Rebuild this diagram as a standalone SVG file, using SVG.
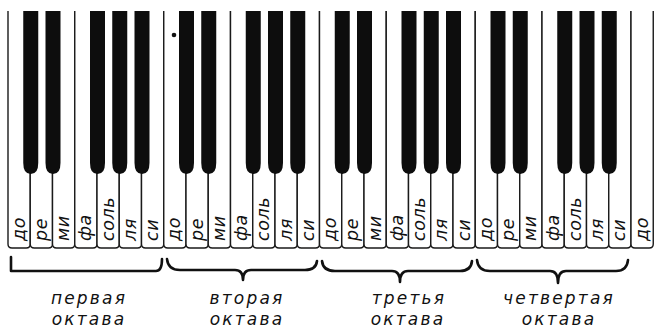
<svg xmlns="http://www.w3.org/2000/svg" xmlns:xlink="http://www.w3.org/1999/xlink" width="656" height="330" viewBox="0 0 656 330">
<style>
.wk{fill:#fff;stroke:#1a1a1a;stroke-width:1.4}
.bk{fill:#0d0d0d}
.kl{font-family:"DejaVu Sans",sans-serif;font-style:italic;font-size:17.5px;letter-spacing:0.6px;fill:#111}
.br{fill:none;stroke:#111;stroke-width:2.6;stroke-linecap:round;stroke-linejoin:round}
.ol{font-family:"DejaVu Sans",sans-serif;font-style:italic;font-size:17px;letter-spacing:2.2px;fill:#111;text-anchor:middle}
</style>
<defs>
<path id="w" class="wk" d="M0,11 V244 Q0,248 4,248 H18.25 Q22.25,248 22.25,244 V11"/>
<path id="b" class="bk" d="M0,11 H15 V163 Q15,174 7.5,174 Q0,174 0,163 Z"/>
</defs>
<rect width="656" height="330" fill="#fff"/>
<g id="white-keys">
<g id="wk0"><use href="#w" x="8"/><text class="kl" transform="translate(24.5,241) rotate(-90)">до</text></g>
<g id="wk1"><use href="#w" x="30.25"/><text class="kl" transform="translate(46.75,241) rotate(-90)">ре</text></g>
<g id="wk2"><use href="#w" x="52.5"/><text class="kl" transform="translate(69,241) rotate(-90)">ми</text></g>
<g id="wk3"><use href="#w" x="74.75"/><text class="kl" transform="translate(91.25,241) rotate(-90)">фа</text></g>
<g id="wk4"><use href="#w" x="97"/><text class="kl" transform="translate(113.5,241) rotate(-90)">соль</text></g>
<g id="wk5"><use href="#w" x="119.25"/><text class="kl" transform="translate(135.75,241) rotate(-90)">ля</text></g>
<g id="wk6"><use href="#w" x="141.5"/><text class="kl" transform="translate(158,241) rotate(-90)">си</text></g>
<g id="wk7"><use href="#w" x="163.75"/><text class="kl" transform="translate(180.25,241) rotate(-90)">до</text></g>
<g id="wk8"><use href="#w" x="186"/><text class="kl" transform="translate(202.5,241) rotate(-90)">ре</text></g>
<g id="wk9"><use href="#w" x="208.25"/><text class="kl" transform="translate(224.75,241) rotate(-90)">ми</text></g>
<g id="wk10"><use href="#w" x="230.5"/><text class="kl" transform="translate(247,241) rotate(-90)">фа</text></g>
<g id="wk11"><use href="#w" x="252.75"/><text class="kl" transform="translate(269.25,241) rotate(-90)">соль</text></g>
<g id="wk12"><use href="#w" x="275"/><text class="kl" transform="translate(291.5,241) rotate(-90)">ля</text></g>
<g id="wk13"><use href="#w" x="297.25"/><text class="kl" transform="translate(313.75,241) rotate(-90)">си</text></g>
<g id="wk14"><use href="#w" x="319.5"/><text class="kl" transform="translate(336,241) rotate(-90)">до</text></g>
<g id="wk15"><use href="#w" x="341.75"/><text class="kl" transform="translate(358.25,241) rotate(-90)">ре</text></g>
<g id="wk16"><use href="#w" x="364"/><text class="kl" transform="translate(380.5,241) rotate(-90)">ми</text></g>
<g id="wk17"><use href="#w" x="386.25"/><text class="kl" transform="translate(402.75,241) rotate(-90)">фа</text></g>
<g id="wk18"><use href="#w" x="408.5"/><text class="kl" transform="translate(425,241) rotate(-90)">соль</text></g>
<g id="wk19"><use href="#w" x="430.75"/><text class="kl" transform="translate(447.25,241) rotate(-90)">ля</text></g>
<g id="wk20"><use href="#w" x="453"/><text class="kl" transform="translate(469.5,241) rotate(-90)">си</text></g>
<g id="wk21"><use href="#w" x="475.25"/><text class="kl" transform="translate(491.75,241) rotate(-90)">до</text></g>
<g id="wk22"><use href="#w" x="497.5"/><text class="kl" transform="translate(514,241) rotate(-90)">ре</text></g>
<g id="wk23"><use href="#w" x="519.75"/><text class="kl" transform="translate(536.25,241) rotate(-90)">ми</text></g>
<g id="wk24"><use href="#w" x="542"/><text class="kl" transform="translate(558.5,241) rotate(-90)">фа</text></g>
<g id="wk25"><use href="#w" x="564.25"/><text class="kl" transform="translate(580.75,241) rotate(-90)">соль</text></g>
<g id="wk26"><use href="#w" x="586.5"/><text class="kl" transform="translate(603,241) rotate(-90)">ля</text></g>
<g id="wk27"><use href="#w" x="608.75"/><text class="kl" transform="translate(625.25,241) rotate(-90)">си</text></g>
<g id="wk28"><use href="#w" x="631"/><text class="kl" transform="translate(647.5,241) rotate(-90)">до</text></g>
</g>
<g id="black-keys">
<use href="#b" x="23.25"/><use href="#b" x="45.5"/><use href="#b" x="90"/><use href="#b" x="112.25"/><use href="#b" x="134.5"/>
<use href="#b" x="179"/><use href="#b" x="201.25"/><use href="#b" x="245.75"/><use href="#b" x="268"/><use href="#b" x="290.25"/>
<use href="#b" x="334.75"/><use href="#b" x="357"/><use href="#b" x="401.5"/><use href="#b" x="423.75"/><use href="#b" x="446"/>
<use href="#b" x="490.5"/><use href="#b" x="512.75"/><use href="#b" x="557.25"/><use href="#b" x="579.5"/><use href="#b" x="601.75"/>
</g>
<circle cx="174" cy="35" r="2.3" fill="#111"/>
<g id="braces">
<path class="br" d="M11,257 V271 H156 Q162,271 162,259"/>
<path class="br" d="M167,259 Q168,270 180,270 H235 Q243,270 243,280 Q243,270 251,270 H305 Q316,270 317,261"/>
<path class="br" d="M322,261 Q323,271 335,271 H392 Q400,271 400,282 Q400,271 408,271 H460 Q471,271 472,261"/>
<path class="br" d="M477,260 Q478,271 490,271 H550 Q558,271 558,283 Q558,271 566,271 H616 Q627,271 628,260"/>
</g>
<g id="octave-1"><text class="ol" x="89" y="304">первая</text><text class="ol" x="89" y="325">октава</text></g>
<g id="octave-2"><text class="ol" x="247" y="304">вторая</text><text class="ol" x="247" y="325">октава</text></g>
<g id="octave-3"><text class="ol" x="409" y="304">третья</text><text class="ol" x="408" y="325">октава</text></g>
<g id="octave-4"><text class="ol" x="559" y="304">четвертая</text><text class="ol" x="559" y="325">октава</text></g>
</svg>
